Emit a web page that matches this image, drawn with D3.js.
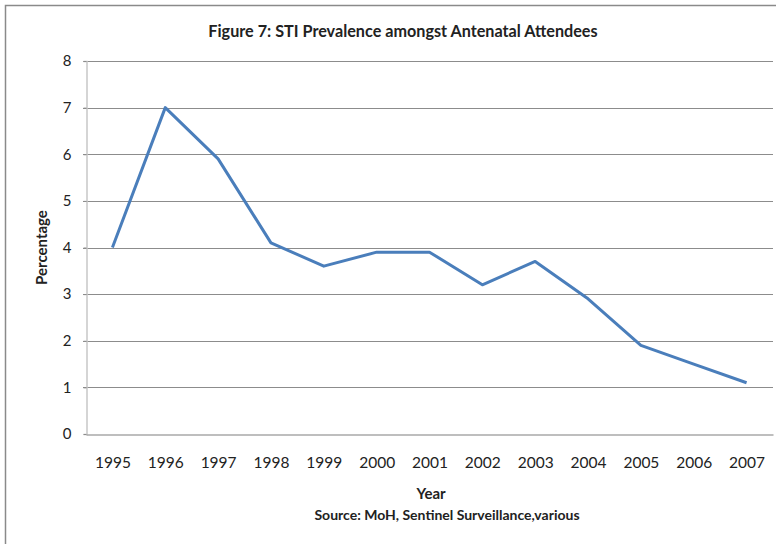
<!DOCTYPE html>
<html>
<head>
<meta charset="utf-8">
<script src="https://cdn.jsdelivr.net/npm/d3@7"></script>
<style>
  html, body { margin: 0; padding: 0; background: #fff; }
  svg { display: block; }
  text { font-family: Lato, "Open Sans", sans-serif; fill: #222; }
</style>
</head>
<body>
<svg id="chart" width="776" height="544"></svg>
<script>
// STI prevalence among antenatal attendees, 1995-2007
const years = ["1995","1996","1997","1998","1999","2000","2001","2002","2003","2004","2005","2006","2007"];
const prevalence = [4.0, 7.0, 5.9, 4.1, 3.6, 3.9, 3.9, 3.2, 3.7, 2.9, 1.9, 1.5, 1.1];
const yTicks = [0, 1, 2, 3, 4, 5, 6, 7, 8];

const svg = d3.select("#chart");
const W = 776, H = 544;
const m = { left: 86, right: 3, top: 61, bottom: 110 };

// outer chart frame
svg.append("rect")
  .attr("x", 5.5).attr("y", 5.5)
  .attr("width", W + 10).attr("height", H + 10)
  .attr("fill", "none").attr("stroke", "#8a8a8a").attr("stroke-width", 1.5);

const x = d3.scalePoint().domain(years)
  .range([m.left, W - m.right]).padding(0.5);
const y = d3.scaleLinear().domain([0, 8]).range([H - m.bottom, m.top]);

// horizontal gridlines
svg.append("g")
  .selectAll("line")
  .data(yTicks.filter(d => d > 0))
  .join("line")
  .attr("x1", m.left - 3).attr("x2", W - m.right)
  .attr("y1", d => Math.round(y(d)) + 0.5).attr("y2", d => Math.round(y(d)) + 0.5)
  .attr("stroke", "#8c8c8c").attr("stroke-width", 1);

// y axis
const yAxis = svg.append("g")
  .attr("transform", `translate(${m.left + 0.5},0)`)
  .call(d3.axisLeft(y).tickValues(yTicks).tickSize(3).tickPadding(12));
yAxis.select(".domain").attr("stroke", "#c8c8c8").attr("stroke-width", 1.5);
yAxis.selectAll(".tick line").attr("stroke", "#8c8c8c");
yAxis.selectAll(".tick text")
  .attr("font-size", 15).attr("font-family", "Lato, sans-serif").attr("fill", "#333");

// x axis
const xAxis = svg.append("g")
  .attr("transform", `translate(0,${Math.round(y(0)) + 0.5})`)
  .call(d3.axisBottom(x).tickSize(0).tickPadding(22));
xAxis.select(".domain").attr("stroke", "#a8a8a8").attr("stroke-width", 1.5);
xAxis.selectAll(".tick text")
  .attr("font-size", 15.5).attr("font-family", "Lato, sans-serif").attr("fill", "#222");

// data line
svg.append("path")
  .datum(prevalence)
  .attr("fill", "none")
  .attr("stroke", "#4a7ebb")
  .attr("stroke-width", 3)
  .attr("stroke-linejoin", "round")
  .attr("d", d3.line().x((d, i) => x(years[i])).y(d => y(d)));

// titles
svg.append("text")
  .attr("x", 403).attr("y", 37)
  .attr("text-anchor", "middle")
  .attr("font-size", 16.2).attr("font-weight", "bold")
  .text("Figure 7: STI Prevalence amongst Antenatal Attendees");

svg.append("text")
  .attr("transform", `translate(47,${y(4)}) rotate(-90)`)
  .attr("text-anchor", "middle")
  .attr("font-size", 15).attr("font-weight", "bold")
  .text("Percentage");

svg.append("text")
  .attr("x", 431).attr("y", 499)
  .attr("text-anchor", "middle")
  .attr("font-size", 15).attr("font-weight", "bold")
  .text("Year");

svg.append("text")
  .attr("x", 447).attr("y", 520)
  .attr("text-anchor", "middle")
  .attr("font-size", 14).attr("font-weight", "bold")
  .text("Source: MoH, Sentinel Surveillance,various");
</script>
</body>
</html>
